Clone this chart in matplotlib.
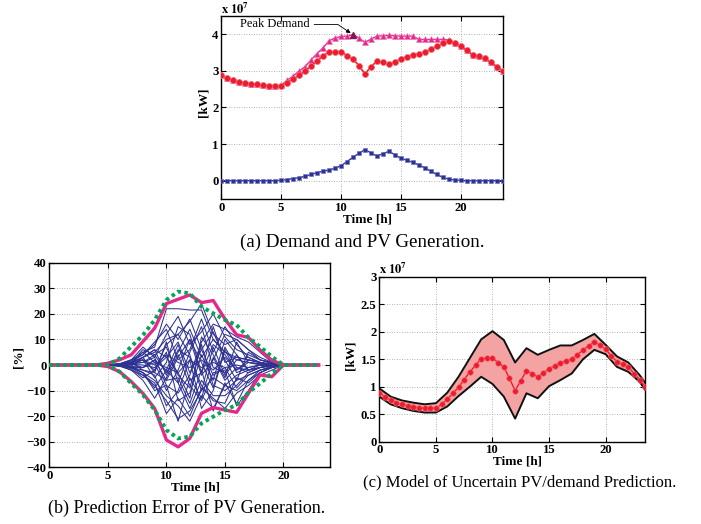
import matplotlib
matplotlib.use('Agg')
import matplotlib.pyplot as plt

plt.rcParams['font.family'] = ['Liberation Serif', 'DejaVu Serif']
plt.rcParams['mathtext.fontset'] = 'stix'

# ---------------- (a) Demand and PV generation (x 1e7 kW) ----------------
hours_half = [i * 0.5 for i in range(48)]
demand = [2.88, 2.81, 2.74, 2.70, 2.68, 2.65, 2.63, 2.62, 2.60, 2.60,
          2.61, 2.74, 2.86, 2.99, 3.12, 3.30, 3.47, 3.63, 3.82, 3.90,
          3.94, 3.95, 3.99, 3.90, 3.78, 3.87, 3.95, 3.96, 3.97, 3.96,
          3.95, 3.95, 3.95, 3.86, 3.86, 3.86, 3.86, 3.86, 3.85, 3.77,
          3.69, 3.56, 3.44, 3.40, 3.34, 3.23, 3.12, 3.00]
net_demand = [2.88, 2.81, 2.74, 2.70, 2.68, 2.65, 2.63, 2.62, 2.60, 2.60,
              2.60, 2.68, 2.78, 2.88, 2.99, 3.13, 3.26, 3.41, 3.52, 3.53,
              3.53, 3.42, 3.33, 3.14, 2.92, 3.11, 3.27, 3.23, 3.18, 3.24,
              3.33, 3.39, 3.44, 3.47, 3.51, 3.60, 3.67, 3.75, 3.82, 3.75,
              3.68, 3.56, 3.44, 3.40, 3.34, 3.23, 3.12, 3.00]
pv_gen = [0, 0, 0, 0, 0, 0, 0, 0, 0, 0,
          0.01, 0.03, 0.06, 0.08, 0.12, 0.17, 0.22, 0.26, 0.29, 0.34,
          0.41, 0.52, 0.64, 0.75, 0.85, 0.76, 0.67, 0.74, 0.80, 0.71,
          0.61, 0.56, 0.50, 0.43, 0.35, 0.26, 0.17, 0.09, 0.04, 0.02,
          0.01, 0, 0, 0, 0, 0, 0, 0]
peak_hour = 11.0
peak_value = 3.99

# ---------------- (b) Prediction error of PV generation [%] ----------------
hours = list(range(24))
active_hours = list(range(5, 21))
scenarios = [
    [0, 0.5, 2, 5, 7, 22, 22, 21.5, 21.5, 10, 5, 3, 2, 1, 0.5, 0],
    [0, 0.3, 1, 3, 5, 10, 12, 17, 24, 12, 8, 10, 6, 2, 0.5, 0],
    [0, -0.5, -2, -4, -8, -14, -21, -18, -10, -5, -8, -10, -6, -2, -1, 0],
    [0, 0.5, 1, 6, 4, -3, 5, 14, 3, 10, 5, 2, 1, 0.5, 0, 0],
    [0, -0.3, -1, -3, -6, -12, -16, -22, -12, -17, -8, -4, -2, -1, -0.5, 0],
    [0, 0.4, 2, 7, 3, 12, 19, 8, 13, 20, 11, 6, 4, 2, 1, 0],
    [0, -0.4, -1, -2, -3, -6, -5, -15, -2, -18, -7, -15, -6, -3, -1, 0],
    [0, 0.2, 0.8, 2, -2, 8, 12, 4, -10, 7, -4, 2, 3, 1, 0, 0],
    [0, -0.2, -0.5, -3, -10, -8, -22, -5, -13, 3, -6, -1, -3, -1, 0, 0],
    [0, 0.3, 1.5, 4, 9, 14, 2, 6, 18, 5, 15, 8, 3, 1, 0, 0],
    [0, -0.2, -1.5, -5, -2, 5, -14, -11, 4, -6, 10, 4, -2, -1, 0, 0],
    [0, 0.3, 1, 3, 6, 3, 9, -3, 6, 13, 2, -6, 5, 2, 1, 0],
    [0, -0.3, -1, -1, 2, -2, -7, -17, -6, -12, -12, -8, -3, -1, 0, 0],
    [0, 0.1, 0.5, 5, 1, -10, -2, 10, -4, 2, 12, 10, 6, 3, 1, 0],
    [0, -0.1, -2, -6, -13, -5, 4, -8, -14, -3, -2, -16, -10, -3, -1, 0],
    [0, 0.2, 0.5, 1, 4, 7, -4, -9, 8, -8, -10, -6, -4, -2, -1, 0],
    [0, -0.2, 0, 2, -5, 1, 15, 12, -3, 15, 1, 3, 2, 1, 0, 0],
    [0, 0.4, 1, -2, -4, -16, -10, 2, -17, -10, 6, -3, -1, 0, 0, 0],
    [0, 0.1, 0.3, 0, -1, 3, -3, -13, 11, 4, -5, 9, 1, 0, 0, 0],
    [0, -0.3, -0.5, 3, 6, -4, 6, 3, -8, -14, -15, -5, -7, -3, -1, 0],
    [0, 0.2, 1, 2, 0, 4, 1, -1, 2, -2, 3, -2, 1, 0.5, 0, 0],
    [0, -0.1, -0.5, -1, 1, -1, -3, 2, -1, 1, -1, 0, -1, 0, 0, 0],
    [0, 0.3, 2, 4, 8, 16, 10, 18, 6, -4, -1, -9, -4, -2, -0.5, 0],
    [0, -0.4, -1, -4, -7, -19, -13, -20, -9, -13, -17, -11, -8, -4, -2, 0],
    [0, 0.2, 0.5, 1, 3, -8, -11, -4, 9, 16, 14, 11, 9, 5, 1, 0],
    [0, 0.1, 1, 3, -3, 9, -7, 5, 15, -1, -3, 4, -2, -1, 0, 0],
    [0, -0.2, -1, -3, -9, -2, 8, -6, -3, 8, 4, -2, 2, 1, 0, 0],
    [0, 0.2, 0.5, -1, 2, -6, 3, 10, 1, -9, 7, -1, -2, 0, 0, 0],
]
max_err = [0, 0, 0, 0, 0, 0.7, 2.0, 4.0, 9.2, 14.4, 24.0, 25.7, 27.4, 24.4,
           25.2, 18.0, 11.8, 10.8, 5.9, 1.9, 0, 0, 0, 0]
min_err = [0, 0, 0, 0, 0, -0.6, -2.6, -6.5, -11.1, -17.0, -29.3, -32.0, -28.7,
           -18.9, -16.6, -17.6, -18.5, -11.1, -3.9, -4.6, 0, 0, 0, 0]
bound_up = [0, 0, 0, 0, 0, 0, 2.6, 7.2, 11.7, 17.6, 25.4, 28.7, 28.0, 22.8,
            20.2, 17.6, 15.6, 10.8, 7.2, 3.3, 0, 0, 0, 0]
bound_lo = [0, 0, 0, 0, 0, 0, -2.6, -7.2, -11.7, -17.6, -25.4, -28.7, -28.0,
            -22.8, -20.2, -17.6, -15.6, -10.8, -7.2, -3.3, 0, 0, 0, 0]

# ---------------- (c) Uncertain PV/demand prediction (x 1e7 kW) ----------------
band_hours = list(range(24)) + [23.5]
band_upper = [0.97, 0.82, 0.75, 0.71, 0.68, 0.70, 0.89, 1.18, 1.52, 1.86, 2.01,
              1.85, 1.44, 1.70, 1.58, 1.67, 1.75, 1.75, 1.85, 1.96, 1.76, 1.55,
              1.44, 1.21, 1.07]
band_lower = [0.82, 0.68, 0.61, 0.56, 0.53, 0.53, 0.64, 0.83, 1.00, 1.18, 1.05,
              0.82, 0.42, 0.88, 0.79, 1.01, 1.12, 1.24, 1.50, 1.67, 1.59, 1.36,
              1.27, 1.09, 0.94]
prediction = [0.89, 0.82, 0.75, 0.71, 0.68, 0.65, 0.64, 0.62, 0.61, 0.61,
              0.61, 0.68, 0.77, 0.88, 0.99, 1.13, 1.27, 1.39, 1.51, 1.52,
              1.52, 1.44, 1.36, 1.15, 0.93, 1.11, 1.29, 1.24, 1.18, 1.25,
              1.33, 1.38, 1.44, 1.47, 1.50, 1.58, 1.67, 1.74, 1.82, 1.75,
              1.68, 1.56, 1.45, 1.41, 1.36, 1.24, 1.13, 1.00]

# ---------------- styling ----------------
W, H = 701, 524
fig = plt.figure(figsize=(W / 100, H / 100), dpi=100)

RED = '#ec1c2e'
MAG = '#e6288c'
NAVY = '#2e3192'
GREEN = '#00a651'
TICK_FS = 9.2
LAB_FS = 9.5


def pix_axes(x0, y0, x1, y1):
    return fig.add_axes([x0 / W, 1 - y1 / H, (x1 - x0) / W, (y1 - y0) / H])


def style(ax):
    ax.tick_params(direction='in', top=True, right=True, length=3.5, width=0.8,
                   labelsize=TICK_FS, pad=2)
    for lab in ax.get_xticklabels() + ax.get_yticklabels():
        lab.set_fontweight('bold')
    for s in ax.spines.values():
        s.set_linewidth(1.0)
    ax.grid(True, linestyle=(0, (1, 2)), color='#9a9a9a', linewidth=0.6)
    ax.set_axisbelow(True)


# (a)
axa = pix_axes(221.2, 16, 502.7, 199)
axa.plot(hours_half, pv_gen, '-s', color=NAVY, lw=1.0, ms=3.4,
         mfc=NAVY, mec='#6a6cc0', mew=0.4, zorder=3)
axa.plot(hours_half, demand, '-^', color=MAG, lw=1.0, ms=4.3,
         mfc=MAG, mec='#f07ab8', mew=0.4, zorder=3)
axa.plot(hours_half, net_demand, '-o', color=RED, lw=1.2, ms=4.3,
         mfc=RED, mec='#f36b74', mew=0.5, zorder=4)
axa.plot([peak_hour], [peak_value], '^', color='#7b1a55', ms=4.3, zorder=5)
axa.set_xlim(0, 23.5)
axa.set_ylim(-0.5, 4.5)
axa.set_xticks([0, 5, 10, 15, 20])
axa.set_yticks([0, 1, 2, 3, 4])
style(axa)
axa.annotate('Peak Demand', xy=(peak_hour, peak_value), xytext=(1.6, 4.27),
             textcoords='data', fontsize=9, ha='left', va='center',
             arrowprops=dict(arrowstyle='-|>', color='black', lw=0.6,
                             mutation_scale=6, shrinkA=1, shrinkB=2,
                             relpos=(1.0, 0.5),
                             connectionstyle='angle,angleA=0,angleB=146,rad=0'))
axa.text(0.0, 1.012, r'$\mathbf{x\ 10^{7}}$', transform=axa.transAxes,
         fontsize=9, ha='left', va='baseline')
axa.text(-0.063, 0.53, '[kW]', transform=axa.transAxes, rotation=90,
         fontsize=LAB_FS, fontweight='bold', ha='center', va='center')
axa.text(0.518, -0.112, 'Time [h]', transform=axa.transAxes,
         fontsize=LAB_FS, fontweight='bold', ha='center', va='center')

# (b)
axb = pix_axes(49.3, 262.7, 330.3, 467.3)
for sc in scenarios:
    axb.plot(active_hours, sc, '-', color=NAVY, lw=0.75, zorder=2)
axb.plot(hours, max_err, '-', color=MAG, lw=2.4, zorder=3)
axb.plot(hours, min_err, '-', color=MAG, lw=2.4, zorder=3)
axb.plot(hours, bound_up, color=GREEN, lw=2.8, linestyle=(0, (0.9, 0.9)),
         dash_capstyle='butt', zorder=4)
axb.plot(hours, bound_lo, color=GREEN, lw=2.8, linestyle=(0, (0.9, 0.9)),
         dash_capstyle='butt', zorder=4)
axb.set_xlim(0, 24)
axb.set_ylim(-40, 40)
axb.set_xticks([0, 5, 10, 15, 20])
axb.set_yticks(list(range(-40, 41, 10)))
axb.set_yticklabels(['\u221240', '\u221230', '\u221220', '\u221210', '0',
                     '10', '20', '30', '40'])
style(axb)
axb.text(-0.11, 0.54, '[%]', transform=axb.transAxes, rotation=90,
         fontsize=LAB_FS, fontweight='bold', ha='center', va='center')
axb.text(0.519, -0.097, 'Time [h]', transform=axb.transAxes,
         fontsize=LAB_FS, fontweight='bold', ha='center', va='center')

# (c)
axc = pix_axes(379.3, 276.7, 645.3, 441.7)
axc.fill_between(band_hours, band_lower, band_upper, color='#f4a3a3',
                 lw=0, zorder=2)
axc.plot(band_hours, band_upper, '-', color='#111111', lw=1.4, zorder=3)
axc.plot(band_hours, band_lower, '-', color='#111111', lw=1.4, zorder=3)
axc.plot(hours_half, prediction, '-o', color=RED, lw=1.0, ms=4.0,
         mfc=RED, mec='#f36b74', mew=0.4, zorder=4)
axc.set_xlim(0, 23.5)
axc.set_ylim(0, 3)
axc.set_xticks([0, 5, 10, 15, 20])
axc.set_yticks([0, 0.5, 1, 1.5, 2, 2.5, 3])
axc.set_yticklabels(['0', '0.5', '1', '1.5', '2', '2.5', '3'])
style(axc)
axc.text(0.0, 1.014, r'$\mathbf{x\ 10^{7}}$', transform=axc.transAxes,
         fontsize=9, ha='left', va='baseline')
axc.text(-0.108, 0.525, '[kW]', transform=axc.transAxes, rotation=90,
         fontsize=LAB_FS, fontweight='bold', ha='center', va='center')
axc.text(0.518, -0.122, 'Time [h]', transform=axc.transAxes,
         fontsize=LAB_FS, fontweight='bold', ha='center', va='center')

# captions
fig.text(362 / W, 1 - 242 / H, '(a) Demand and PV Generation.',
         fontsize=13.7, ha='center', va='center')
fig.text(187 / W, 1 - 508 / H, '(b) Prediction Error of PV Generation.',
         fontsize=13, ha='center', va='center')
fig.text(520 / W, 1 - 482 / H, '(c) Model of Uncertain PV/demand Prediction.',
         fontsize=12, ha='center', va='center')

fig.savefig('out.png', dpi=100)
